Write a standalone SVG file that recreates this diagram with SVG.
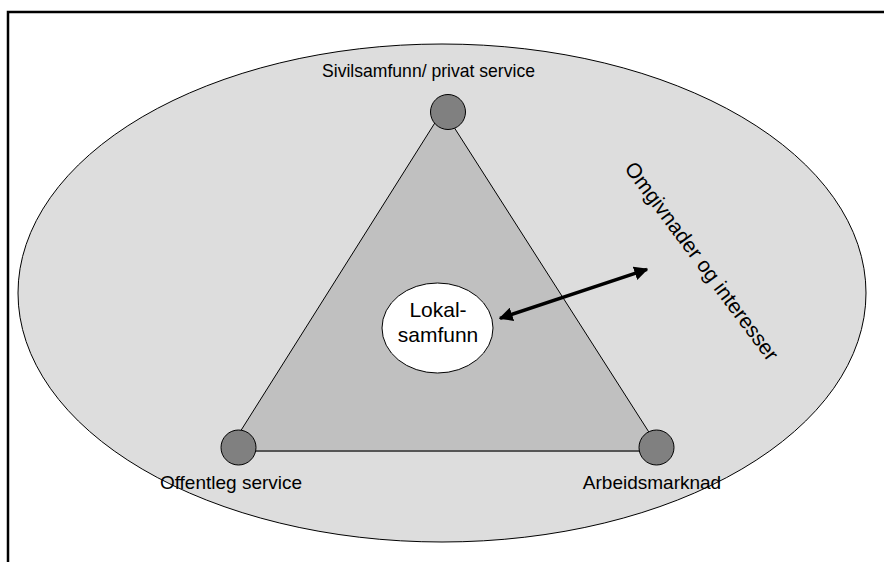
<svg xmlns="http://www.w3.org/2000/svg" width="884" height="562" viewBox="0 0 884 562">
<style>
.lbl{font-family:"Liberation Sans",Arial,sans-serif;font-size:19px;fill:#000}
.big{font-family:"Liberation Sans",Arial,sans-serif;font-size:21px;fill:#000}
.vtx{fill:#808080;stroke:#000;stroke-width:1}
</style>
<defs>
<marker id="ah" viewBox="0 0 10 10" refX="9" refY="5" markerWidth="4" markerHeight="4" orient="auto-start-reverse" markerUnits="strokeWidth">
<path d="M0,0 L10,5 L0,10 z" fill="#000"/>
</marker>
</defs>
<rect width="884" height="562" fill="#fff"/>
<g id="frame" stroke="#000" stroke-width="2.5" fill="none">
<path d="M8,562 V12 H884"/>
</g>
<g id="environment">
<ellipse cx="442" cy="293" rx="424" ry="249" fill="#dddddd" stroke="#000" stroke-width="1"/>
<text class="big" transform="translate(702,261) rotate(53.3)" text-anchor="middle" dominant-baseline="central">Omgivnader og interesser</text>
</g>
<g id="triangle">
<polygon points="443,110 228,451 661,451" fill="#c0c0c0" stroke="#000" stroke-width="1"/>
<line x1="238" y1="451" x2="656" y2="451" stroke="#555" stroke-width="2"/>
</g>
<g id="connectors">
<line x1="500" y1="318.3" x2="647" y2="269.3" stroke="#000" stroke-width="3.5" marker-start="url(#ah)" marker-end="url(#ah)"/>
</g>
<g id="node-sivilsamfunn">
<circle class="vtx" cx="448" cy="112" r="17.5"/>
<text class="lbl" x="322" y="77" textLength="213" lengthAdjust="spacingAndGlyphs">Sivilsamfunn/ privat service</text>
</g>
<g id="node-offentleg">
<circle class="vtx" cx="238.5" cy="447.5" r="17.5"/>
<text class="lbl" x="231" y="489" text-anchor="middle">Offentleg service</text>
</g>
<g id="node-arbeidsmarknad">
<circle class="vtx" cx="656.5" cy="447.5" r="17.5"/>
<text class="lbl" x="652" y="489" text-anchor="middle">Arbeidsmarknad</text>
</g>
<g id="node-lokalsamfunn">
<ellipse cx="437.5" cy="328" rx="55.5" ry="45" fill="#fff" stroke="#000" stroke-width="1"/>
<text class="big" x="438" y="316.7" text-anchor="middle">Lokal-</text>
<text class="big" x="438" y="341.7" text-anchor="middle">samfunn</text>
</g>
</svg>
